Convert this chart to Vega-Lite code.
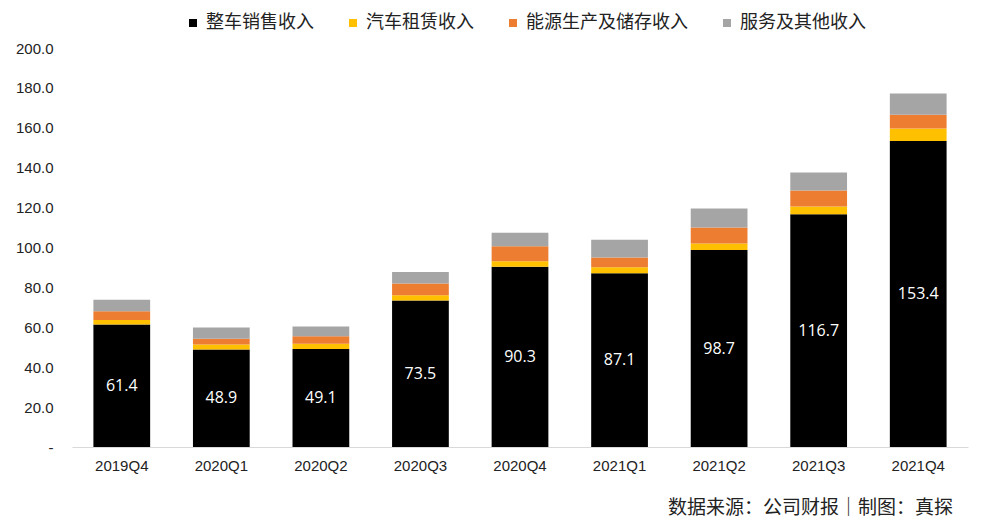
{
  "$schema": "https://vega.github.io/schema/vega-lite/v6.json",
  "width": 896,
  "height": 399,
  "autosize": {"type": "none"},
  "padding": {"left": 72, "top": 48, "right": 16, "bottom": 82},
  "background": "white",
  "config": {"view": {"stroke": null}, "axisY": {"labelOverlap": false}},
  "title": {
    "text": "数据来源：公司财报｜制图：真探",
    "orient": "bottom",
    "anchor": "end",
    "offset": 26,
    "dx": -15,
    "font": "Noto Sans CJK SC",
    "fontSize": 19,
    "fontWeight": "normal",
    "color": "#222222"
  },
  "data": {
    "values": [
      {"q": "2019Q4", "type": "整车销售收入", "v": 61.43},
      {"q": "2019Q4", "type": "汽车租赁收入", "v": 2.25},
      {"q": "2019Q4", "type": "能源生产及储存收入", "v": 4.36},
      {"q": "2019Q4", "type": "服务及其他收入", "v": 5.80},
      {"q": "2020Q1", "type": "整车销售收入", "v": 48.93},
      {"q": "2020Q1", "type": "汽车租赁收入", "v": 2.39},
      {"q": "2020Q1", "type": "能源生产及储存收入", "v": 2.93},
      {"q": "2020Q1", "type": "服务及其他收入", "v": 5.60},
      {"q": "2020Q2", "type": "整车销售收入", "v": 49.11},
      {"q": "2020Q2", "type": "汽车租赁收入", "v": 2.68},
      {"q": "2020Q2", "type": "能源生产及储存收入", "v": 3.70},
      {"q": "2020Q2", "type": "服务及其他收入", "v": 4.87},
      {"q": "2020Q3", "type": "整车销售收入", "v": 73.46},
      {"q": "2020Q3", "type": "汽车租赁收入", "v": 2.65},
      {"q": "2020Q3", "type": "能源生产及储存收入", "v": 5.79},
      {"q": "2020Q3", "type": "服务及其他收入", "v": 5.81},
      {"q": "2020Q4", "type": "整车销售收入", "v": 90.34},
      {"q": "2020Q4", "type": "汽车租赁收入", "v": 2.80},
      {"q": "2020Q4", "type": "能源生产及储存收入", "v": 7.52},
      {"q": "2020Q4", "type": "服务及其他收入", "v": 6.78},
      {"q": "2021Q1", "type": "整车销售收入", "v": 87.08},
      {"q": "2021Q1", "type": "汽车租赁收入", "v": 2.97},
      {"q": "2021Q1", "type": "能源生产及储存收入", "v": 4.94},
      {"q": "2021Q1", "type": "服务及其他收入", "v": 8.93},
      {"q": "2021Q2", "type": "整车销售收入", "v": 98.74},
      {"q": "2021Q2", "type": "汽车租赁收入", "v": 3.32},
      {"q": "2021Q2", "type": "能源生产及储存收入", "v": 8.01},
      {"q": "2021Q2", "type": "服务及其他收入", "v": 9.51},
      {"q": "2021Q3", "type": "整车销售收入", "v": 116.67},
      {"q": "2021Q3", "type": "汽车租赁收入", "v": 3.85},
      {"q": "2021Q3", "type": "能源生产及储存收入", "v": 8.06},
      {"q": "2021Q3", "type": "服务及其他收入", "v": 8.99},
      {"q": "2021Q4", "type": "整车销售收入", "v": 153.39},
      {"q": "2021Q4", "type": "汽车租赁收入", "v": 6.28},
      {"q": "2021Q4", "type": "能源生产及储存收入", "v": 6.88},
      {"q": "2021Q4", "type": "服务及其他收入", "v": 10.64}
    ]
  },
  "transform": [
    {"calculate": "indexof(['整车销售收入','汽车租赁收入','能源生产及储存收入','服务及其他收入'], datum.type)", "as": "k"}
  ],
  "encoding": {
    "x": {
      "field": "q",
      "type": "nominal",
      "sort": null,
      "scale": {"paddingInner": 0.43, "paddingOuter": 0.215},
      "axis": {
        "title": null,
        "labelAngle": 0,
        "ticks": false,
        "domainColor": "#d9d9d9",
        "domainWidth": 1,
        "labelFont": "Liberation Sans",
        "labelFontSize": 15,
        "labelColor": "#222222",
        "labelPadding": 11
      }
    }
  },
  "layer": [
    {
      "mark": {"type": "bar"},
      "encoding": {
        "y": {
          "field": "v",
          "type": "quantitative",
          "stack": "zero",
          "scale": {"domain": [0, 200], "nice": false},
          "axis": {
            "title": null,
            "values": [0, 20, 40, 60, 80, 100, 120, 140, 160, 180, 200],
            "labelExpr": "datum.value == 0 ? '-\u00a0\u00a0' : format(datum.value, '.1f')",
            "labelOverlap": false,
            "domain": false,
            "ticks": false,
            "grid": false,
            "labelFont": "Liberation Sans",
            "labelFontSize": 15,
            "labelColor": "#222222",
            "labelPadding": 19
          }
        },
        "color": {
          "field": "type",
          "type": "nominal",
          "sort": ["整车销售收入", "汽车租赁收入", "能源生产及储存收入", "服务及其他收入"],
          "scale": {
            "domain": ["整车销售收入", "汽车租赁收入", "能源生产及储存收入", "服务及其他收入"],
            "range": ["#000000", "#FFC000", "#ED7D31", "#A5A5A5"]
          },
          "legend": {
            "title": null,
            "orient": "none",
            "direction": "horizontal",
            "legendX": 112,
            "legendY": -34,
            "symbolType": "square",
            "symbolSize": 64,
            "symbolStrokeWidth": 0,
            "labelFont": "Noto Sans CJK SC",
            "labelFontSize": 18,
            "labelColor": "#222222",
            "labelLimit": 400,
            "labelOffset": 4,
            "columnPadding": 30
          }
        },
        "order": {"field": "k", "type": "quantitative"}
      }
    },
    {
      "transform": [
        {"filter": "datum.type == '整车销售收入'"},
        {"calculate": "datum.v / 2", "as": "mid"}
      ],
      "mark": {"type": "text", "color": "white", "font": "Open Sans", "fontSize": 16, "baseline": "middle"},
      "encoding": {
        "y": {
          "field": "mid",
          "type": "quantitative",
          "axis": {
            "title": null,
            "values": [0, 20, 40, 60, 80, 100, 120, 140, 160, 180, 200],
            "labelExpr": "datum.value == 0 ? '-\u00a0\u00a0' : format(datum.value, '.1f')",
            "labelOverlap": false,
            "domain": false,
            "ticks": false,
            "grid": false,
            "labelFont": "Liberation Sans",
            "labelFontSize": 15,
            "labelColor": "#222222",
            "labelPadding": 19
          }
        },
        "text": {"field": "v", "type": "quantitative", "format": ".1f"}
      }
    }
  ]
}
